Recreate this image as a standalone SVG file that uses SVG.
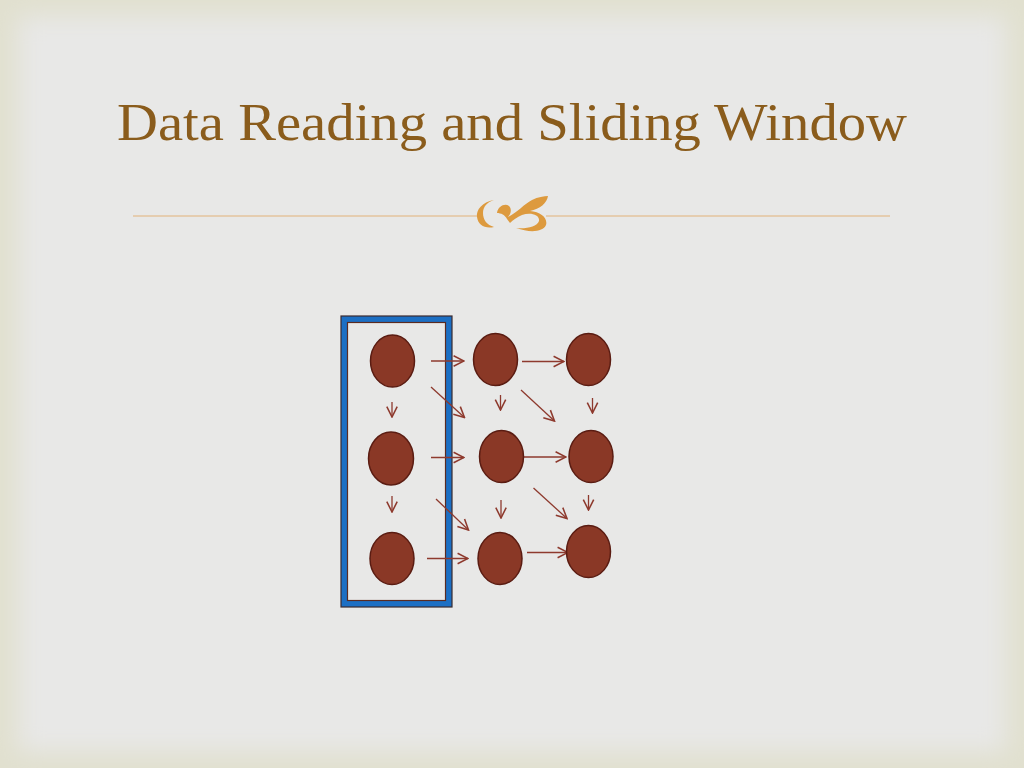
<svg xmlns="http://www.w3.org/2000/svg" width="1024" height="768" viewBox="0 0 1024 768">
<style>
.node{fill:#8a3826;stroke:#5a1c12;stroke-width:1.5}
.edge{stroke:#8e3a2e;stroke-width:1.3;fill:none;marker-end:url(#ah)}
.title{font-family:"Liberation Serif","DejaVu Serif",serif;font-size:52px;fill:#8a5c1c}
</style>
<defs>
<marker id="ah" markerUnits="userSpaceOnUse" markerWidth="13" markerHeight="13" viewBox="0 0 10 10" refX="9" refY="5" orient="auto">
<path d="M1,1 L9,5 L1,9" fill="none" stroke="#8e3a2e" stroke-width="1.2"/>
</marker>
<filter id="blur" x="-5%" y="-5%" width="110%" height="110%"><feGaussianBlur stdDeviation="12"/></filter>
</defs>
<g id="background">
<rect x="0" y="0" width="1024" height="768" fill="#e1e0cf"/>
<rect x="18" y="16" width="988" height="736" fill="#e8e8e7" filter="url(#blur)"/>
</g>
<g id="title">
<text class="title" x="117" y="140" textLength="790" lengthAdjust="spacingAndGlyphs">Data Reading and Sliding Window</text>
</g>
<g id="divider">
<line x1="133" y1="216" x2="477" y2="216" stroke="#e2b27a" stroke-width="1.2"/>
<line x1="546" y1="216" x2="890" y2="216" stroke="#e2b27a" stroke-width="1.2"/>
<path d="M494,200 C482,202 476,210 477,217 C478,225 485,229 494,227 C487,225 483,220 483,213 C483,207 487,202 494,200 Z" fill="#dd9a3e"/>
<path d="M497,213 C498,206 505,203 509,206 C512,209 511,214 508,217 C518,212 524,204 532,200 C538,197 544,196 548,196 C547,203 540,209 530,211 C541,212 548,218 546,225 C543,232 530,233 516,228 C526,229 537,227 539,221 C540,215 531,212 522,215 C517,217 513,220 510,223 L507,219 C505,215 501,213 497,213 Z" fill="#dd9a3e"/>
</g>
<g id="window">
<rect x="344.5" y="319.5" width="104" height="284" fill="none" stroke="#1c6fc4" stroke-width="7"/>
<rect x="341" y="316" width="111" height="291" fill="none" stroke="#3a2a30" stroke-width="1.2"/>
<rect x="347.5" y="322.5" width="98" height="278" fill="none" stroke="#5a2a20" stroke-width="1.2"/>
</g>
<g id="connectors">
<line class="edge" x1="431" y1="361" x2="464" y2="361"/>
<line class="edge" x1="522" y1="361.5" x2="564" y2="361.5"/>
<line class="edge" x1="431" y1="457.5" x2="464" y2="457.5"/>
<line class="edge" x1="524" y1="457" x2="566" y2="457"/>
<line class="edge" x1="427" y1="558.5" x2="468" y2="558.5"/>
<line class="edge" x1="527" y1="552.5" x2="568" y2="552.5"/>
<line class="edge" x1="392" y1="402" x2="392" y2="417"/>
<line class="edge" x1="392" y1="496" x2="392" y2="512"/>
<line class="edge" x1="500.5" y1="395" x2="500.5" y2="410"/>
<line class="edge" x1="501" y1="500" x2="501" y2="518"/>
<line class="edge" x1="592.5" y1="398" x2="592.5" y2="413"/>
<line class="edge" x1="588.5" y1="495" x2="588.5" y2="510"/>
<line class="edge" x1="431" y1="387" x2="464.5" y2="417.5"/>
<line class="edge" x1="521" y1="390" x2="554.5" y2="421"/>
<line class="edge" x1="436" y1="499" x2="468.5" y2="530"/>
<line class="edge" x1="533.5" y1="488" x2="567" y2="518.5"/>
</g>
<g id="n11"><ellipse class="node" cx="392.5" cy="361" rx="22" ry="26"/></g>
<g id="n21"><ellipse class="node" cx="391" cy="458.5" rx="22.5" ry="26.5"/></g>
<g id="n31"><ellipse class="node" cx="392" cy="558.5" rx="22" ry="26"/></g>
<g id="n12"><ellipse class="node" cx="495.5" cy="359.5" rx="22" ry="26"/></g>
<g id="n22"><ellipse class="node" cx="501.5" cy="456.5" rx="22" ry="26"/></g>
<g id="n32"><ellipse class="node" cx="500" cy="558.5" rx="22" ry="26"/></g>
<g id="n13"><ellipse class="node" cx="588.5" cy="359.5" rx="22" ry="26"/></g>
<g id="n23"><ellipse class="node" cx="591" cy="456.5" rx="22" ry="26"/></g>
<g id="n33"><ellipse class="node" cx="588.5" cy="551.5" rx="22" ry="26"/></g>
</svg>
